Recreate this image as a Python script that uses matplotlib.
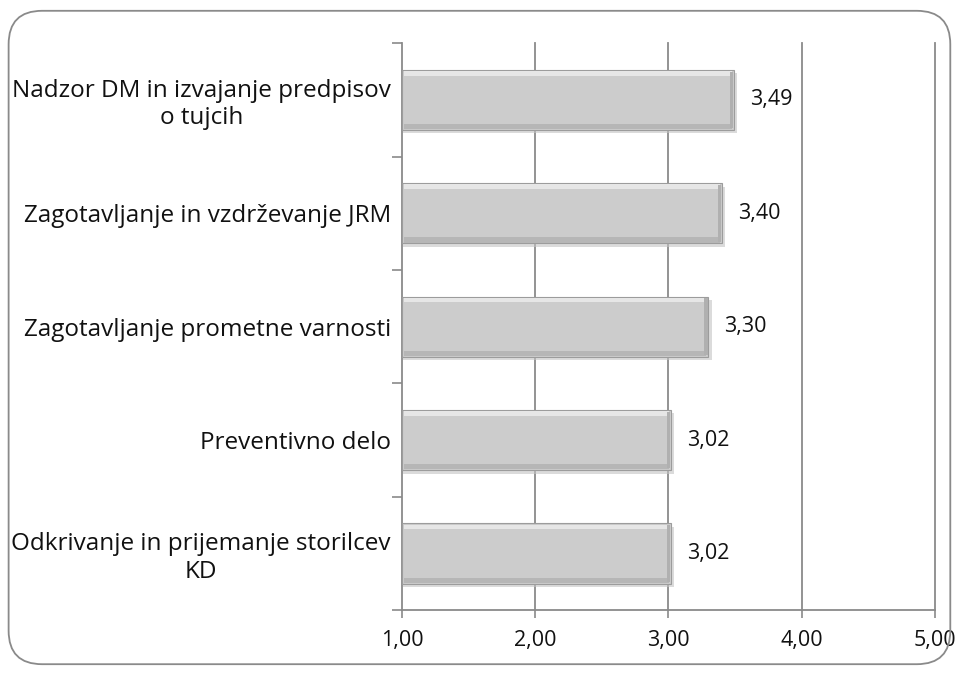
import matplotlib.pyplot as plt
from matplotlib.patches import FancyBboxPatch
from matplotlib.ticker import FuncFormatter

plt.rcParams['font.family'] = ['Open Sans', 'DejaVu Sans']

categories = ['Nadzor DM in izvajanje predpisov\no tujcih',
              'Zagotavljanje in vzdrževanje JRM',
              'Zagotavljanje prometne varnosti',
              'Preventivno delo',
              'Odkrivanje in prijemanje storilcev\nKD']
values = [3.49, 3.40, 3.30, 3.02, 3.02]
xmin, xmax = 1, 5
xticks = [1, 2, 3, 4, 5]

fig = plt.figure(figsize=(9.57, 6.75), dpi=100)
ax = fig.add_axes([0.420, 0.096, 0.557, 0.840])

# rounded frame around the whole chart
frame = FancyBboxPatch((0.009, 0.016), 0.984, 0.968, transform=fig.transFigure,
                       boxstyle='round,pad=0,rounding_size=0.035',
                       mutation_aspect=957 / 675,
                       facecolor='none', edgecolor='#8a8a8a', linewidth=1.3)
fig.patches.append(frame)

ys = list(range(len(categories)))
h = 0.53
for y, v in zip(ys, values):
    w = v - xmin
    # soft shadow
    ax.barh(y + 0.03, w + 0.015, left=xmin + 0.01, height=h, color='#c4c4c4',
            alpha=0.6, zorder=2, linewidth=0)
    ax.barh(y, w, left=xmin, height=h, color='#cccccc', edgecolor='#9c9c9c',
            linewidth=0.8, zorder=3)
    # bevel: light top, darker bottom and right edge
    ax.barh(y - h / 2 + 0.03, w - 0.03, left=xmin + 0.015, height=0.04,
            color='#e6e6e6', zorder=4, linewidth=0)
    ax.barh(y + h / 2 - 0.03, w - 0.03, left=xmin + 0.015, height=0.045,
            color='#b6b6b6', zorder=4, linewidth=0)
    ax.barh(y, 0.025, left=v - 0.03, height=h - 0.03, color='#b0b0b0', zorder=4,
            linewidth=0)
    ax.text(v + 0.12, y, f'{v:.2f}'.replace('.', ','), va='center', ha='left',
            fontsize=15.5, color='#111111')

ax.set_xlim(xmin, xmax)
ax.set_ylim(len(categories) - 0.5, -0.5)
ax.set_xticks(xticks)
ax.xaxis.set_major_formatter(FuncFormatter(lambda x, p: f'{x:.2f}'.replace('.', ',')))
ax.set_yticks([y - 0.5 for y in range(len(categories) + 1)])
ax.set_yticklabels([])
ax.set_yticks(ys, minor=True)
ax.set_yticklabels(categories, minor=True, fontsize=17.5, ha='right',
                   multialignment='center', color='#111111')
ax.tick_params(axis='y', which='minor', length=0, pad=8)
ax.tick_params(axis='y', which='major', length=7, color='#8a8a8a', width=1.2)
ax.tick_params(axis='x', length=6, color='#8a8a8a', width=1.2, labelsize=15.5,
               pad=8, labelcolor='#111111')

# vertical gridlines (drawn unclipped so the one at the edge stays full width)
for t in xticks[1:]:
    ax.axvline(t, color='#8a8a8a', linewidth=1.3, zorder=1, clip_on=False)
for s in ['top', 'right']:
    ax.spines[s].set_visible(False)
for s in ['left', 'bottom']:
    ax.spines[s].set_color('#8a8a8a')
    ax.spines[s].set_linewidth(1.3)

fig.savefig('out.png', dpi=100)
